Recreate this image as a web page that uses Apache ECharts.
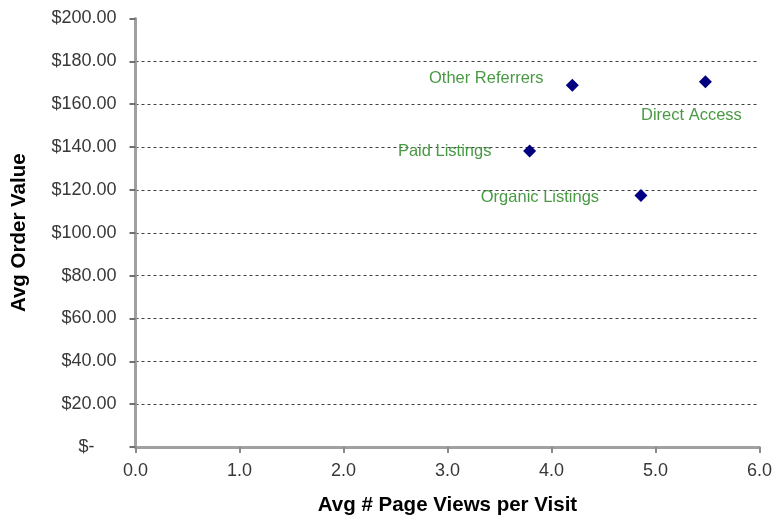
<!DOCTYPE html>
<html>
<head>
<meta charset="utf-8">
<script src="https://cdn.jsdelivr.net/npm/echarts@6/dist/echarts.min.js"></script>
<style>
  html, body { margin: 0; padding: 0; background: #fff; }
  #chart { width: 775px; height: 521px; }
</style>
</head>
<body>
<div id="chart"></div>
<script>
// Traffic sources: average page views per visit vs. average order value
var sources = ['Other Referrers', 'Direct Access', 'Paid Listings', 'Organic Listings'];
var pageViews = [4.2, 5.48, 3.79, 4.86];
var orderValues = [168.9, 170.5, 138.2, 117.4];

// Label placement for each point (pixel offset of the label centre from the marker)
var labelOffsets = {
  'Other Referrers': [-86, -7],
  'Direct Access': [-14, 34],
  'Paid Listings': [-85, 1],
  'Organic Listings': [-101, 2]
};

var points = sources.map(function (name, i) {
  return {
    name: name,
    value: [pageViews[i], orderValues[i]],
    label: { offset: labelOffsets[name] }
  };
});

var chart = echarts.init(document.getElementById('chart'), null, { renderer: 'canvas' });
var FONT = '"Liberation Sans", Arial, sans-serif';

chart.setOption({
  animation: false,
  backgroundColor: '#ffffff',
  grid: { left: 135.5, right: 11.5, top: 18.5, bottom: 73.5, containLabel: false },
  xAxis: {
    type: 'value',
    min: 0, max: 6, interval: 1,
    name: 'Avg # Page Views per Visit',
    nameLocation: 'middle',
    nameGap: 48,
    nameTextStyle: { fontFamily: FONT, fontWeight: 'bold', fontSize: 20.5, color: '#000' },
    axisLine: { show: true, onZero: false, lineStyle: { color: '#a0a0a0', width: 3 } },
    axisTick: { show: true, length: 6, lineStyle: { color: '#8a8a8a', width: 2 } },
    axisLabel: {
      fontFamily: FONT, fontSize: 18, color: '#383838', margin: 15,
      formatter: function (v) { return v.toFixed(1); }
    },
    splitLine: { show: false }
  },
  yAxis: {
    type: 'value',
    min: 0, max: 200, interval: 20,
    name: 'Avg Order Value',
    nameLocation: 'middle',
    nameGap: 106,
    nameTextStyle: { fontFamily: FONT, fontWeight: 'bold', fontSize: 20.5, color: '#000' },
    axisLine: { show: true, onZero: false, lineStyle: { color: '#a0a0a0', width: 3 } },
    axisTick: { show: true, length: 6, lineStyle: { color: '#707070', width: 2 } },
    axisLabel: {
      fontFamily: FONT, fontSize: 18, color: '#383838', margin: 19,
      formatter: function (v) { return v === 0 ? '{z|$-}' : '$' + v.toFixed(2); },
      rich: { z: { fontFamily: FONT, fontSize: 18, color: '#383838', padding: [0, 22, 0, 0] } }
    },
    splitLine: {
      show: true,
      showMinLine: false,
      showMaxLine: false,
      lineStyle: { color: '#404040', width: 1, type: [3, 3] }
    }
  },
  series: [{
    type: 'scatter',
    symbol: 'diamond',
    symbolSize: 13,
    itemStyle: { color: '#000080', opacity: 1 },
    label: {
      show: true,
      position: 'inside',
      formatter: '{b}',
      fontFamily: FONT,
      fontSize: 16.5,
      color: '#4a9a45'
    },
    data: points
  }]
});
</script>
</body>
</html>
